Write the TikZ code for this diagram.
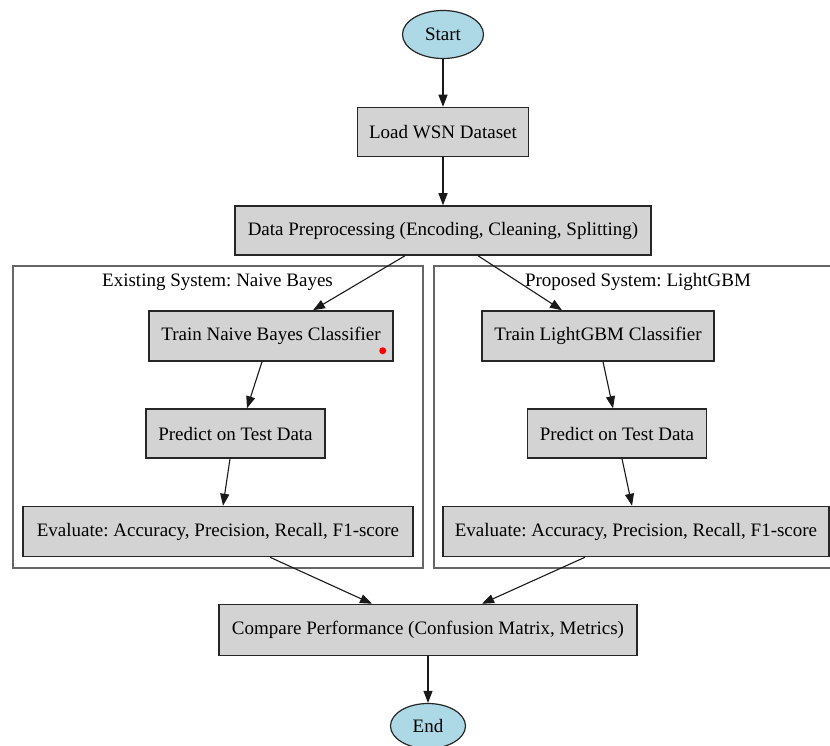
\documentclass[tikz,border=0pt]{standalone}
\usepackage{fontspec}
\setmainfont{Liberation Serif}
\usetikzlibrary{arrows.meta,shapes.geometric}
\definecolor{boxgray}{HTML}{D3D3D3}
\definecolor{lblue}{HTML}{ADD8E6}
\frenchspacing
\tikzset{
  every node/.style={font=\fontsize{19}{23}\selectfont\frenchspacing},
  procbox/.style={draw=black!85, line width=1.5pt, fill=boxgray, rectangle, inner sep=0pt, minimum height=49pt},
  term/.style={draw=black!85, line width=1.2pt, fill=lblue, ellipse, inner sep=0pt},
  cluster/.style={draw=black!60, line width=1.6pt, rectangle, inner sep=0pt},
  flow/.style={draw=black!90, line width=1.1pt, -{Triangle[length=12pt,width=9pt]}},
}
\begin{document}
\begin{tikzpicture}[x=1pt,y=-1pt]
\useasboundingbox (0,0) rectangle (830,746);
\clip (0,0) rectangle (830,746);
\fill[white] (0,0) rectangle (830,746);

% clusters
\node[cluster, minimum width=410pt, minimum height=302pt] (clA) at (218,417) {};
\node[cluster, minimum width=404pt, minimum height=302pt, anchor=west] (clB) at (433,417) {};
\node (labA) at (217.5,282) {Existing System: Naive Bayes};
\node (labB) at (638,282) {Proposed System: LightGBM};

% nodes
\node[term, minimum width=81pt, minimum height=48pt] (start) at (443,34.5) {Start};
\node[procbox, minimum width=171pt] (load) at (443,132) {Load WSN Dataset};
\node[procbox, minimum width=416pt] (data) at (443,230.5) {Data Preprocessing (Encoding, Cleaning, Splitting)};

\node[procbox, minimum width=244pt, minimum height=50pt] (trainnb) at (271,336) {Train Naive Bayes Classifier};
\node[procbox, minimum width=179pt] (prednb) at (235.5,433.5) {Predict on Test Data};
\node[procbox, minimum width=390pt, minimum height=50pt] (evalnb) at (218,531.5) {Evaluate: Accuracy, Precision, Recall, F1-score};

\node[procbox, minimum width=232pt, minimum height=50pt] (trainlg) at (598,336) {Train LightGBM Classifier};
\node[procbox, minimum width=179pt] (predlg) at (617,433.5) {Predict on Test Data};
\node[procbox, minimum width=386pt, minimum height=50pt] (evallg) at (636,531.5) {Evaluate: Accuracy, Precision, Recall, F1-score};

\node[procbox, minimum width=418pt, minimum height=51pt] (compare) at (428,630) {Compare Performance (Confusion Matrix, Metrics)};
\node[term, minimum width=75pt, minimum height=45pt] (end) at (428,726) {End};

\node[circle, fill=red, inner sep=0pt, minimum size=7pt] (dot) at ([xshift=-11pt,yshift=11pt]trainnb.south east) {};

% connectors
\draw[flow] (start) -- (load);
\draw[flow] (load) -- (data);
\draw[flow] ([xshift=-38pt]data.south) -- ([xshift=42pt]trainnb.north);
\draw[flow] ([xshift=35pt]data.south) -- ([xshift=-36pt]trainlg.north);
\draw[flow] ([xshift=-9pt]trainnb.south) -- ([xshift=11.5pt]prednb.north);
\draw[flow] ([xshift=-5.5pt]prednb.south) -- ([xshift=5pt]evalnb.north);
\draw[flow] ([xshift=5pt]trainlg.south) -- ([xshift=-4pt]predlg.north);
\draw[flow] ([xshift=5pt]predlg.south) -- ([xshift=-4pt]evallg.north);
\draw[flow] ([xshift=52pt]evalnb.south) -- ([xshift=-56pt]compare.north);
\draw[flow] ([xshift=-51pt]evallg.south) -- ([xshift=54pt]compare.north);
\draw[flow] (compare) -- (end);
\end{tikzpicture}
\end{document}
